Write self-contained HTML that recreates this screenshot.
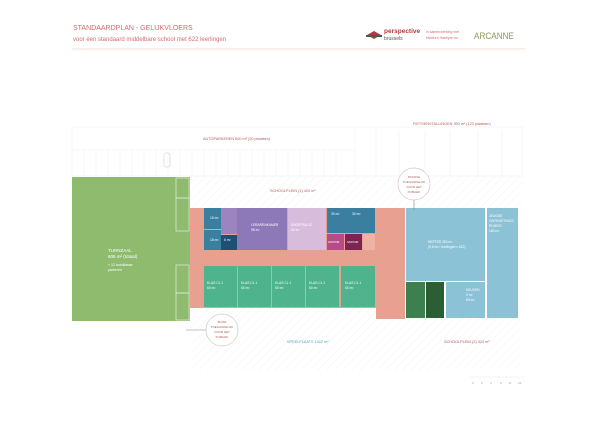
<!DOCTYPE html>
<html><head><meta charset="utf-8"><style>
html,body{margin:0;padding:0;background:#fff;width:600px;height:424px;overflow:hidden}
svg{display:block;font-family:"Liberation Sans",sans-serif}
</style></head><body>
<svg width="600" height="424" viewBox="0 0 600 424" xmlns="http://www.w3.org/2000/svg">
<defs>
<pattern id="h" width="6" height="6" patternUnits="userSpaceOnUse" patternTransform="rotate(45)">
<rect width="6" height="6" fill="#fff"/><line x1="0" y1="0" x2="0" y2="6" stroke="#f3f6f7" stroke-width="1.2"/></pattern>
</defs>
<!-- header -->
<text x="73" y="30" font-size="7" fill="#d46c6c">STANDAARDPLAN - GELIJKVLOERS</text>
<text x="73" y="41" font-size="6" fill="#d46c6c">voor een standaard middelbare school met 622 leerlingen</text>
<line x1="72" y1="49" x2="525" y2="49" stroke="#ecd4d4" stroke-width="0.7"/>
<path d="M367 35 L374 31 L381 35 L374 39Z" fill="#b23a3a"/>
<rect x="366" y="35" width="16" height="2" fill="#555"/>
<text x="384" y="33" font-size="6.5" font-weight="bold" fill="#b23a3a">perspective</text>
<text x="384" y="40" font-size="5" fill="#555">brussels</text>
<text x="426" y="33" font-size="3.5" fill="#d46c6c">in samenwerking met</text>
<text x="426" y="39" font-size="3.5" fill="#d46c6c">Marleen Hakeyan en</text>
<text x="474" y="39" font-size="9" fill="#8a9a5a" textLength="40" lengthAdjust="spacingAndGlyphs">ARCANNE</text>
<!-- parking -->
<rect x="72" y="127" width="450" height="49" fill="#fff" stroke="#f2ecec" stroke-width="0.6"/>
<line x1="72" y1="150" x2="355" y2="150" stroke="#f2ecec" stroke-width="0.6"/>
<g stroke="#f2ecec" stroke-width="0.5">
<line x1="84" y1="150" x2="84" y2="176"/><line x1="96" y1="150" x2="96" y2="176"/><line x1="108" y1="150" x2="108" y2="176"/><line x1="120" y1="150" x2="120" y2="176"/><line x1="132" y1="150" x2="132" y2="176"/><line x1="144" y1="150" x2="144" y2="176"/><line x1="156" y1="150" x2="156" y2="176"/><line x1="168" y1="150" x2="168" y2="176"/><line x1="180" y1="150" x2="180" y2="176"/><line x1="192" y1="150" x2="192" y2="176"/><line x1="204" y1="150" x2="204" y2="176"/><line x1="216" y1="150" x2="216" y2="176"/><line x1="228" y1="150" x2="228" y2="176"/><line x1="240" y1="150" x2="240" y2="176"/><line x1="252" y1="150" x2="252" y2="176"/><line x1="264" y1="150" x2="264" y2="176"/><line x1="276" y1="150" x2="276" y2="176"/><line x1="288" y1="150" x2="288" y2="176"/><line x1="300" y1="150" x2="300" y2="176"/><line x1="312" y1="150" x2="312" y2="176"/><line x1="324" y1="150" x2="324" y2="176"/><line x1="336" y1="150" x2="336" y2="176"/><line x1="355" y1="127" x2="355" y2="176"/>
<line x1="376" y1="130" x2="376" y2="176"/><line x1="399" y1="130" x2="399" y2="176"/><line x1="425" y1="130" x2="425" y2="176"/><line x1="450" y1="130" x2="450" y2="176"/><line x1="478" y1="130" x2="478" y2="176"/><line x1="502" y1="130" x2="502" y2="176"/>
</g>
<rect x="164" y="153" width="6" height="14" rx="2" fill="none" stroke="#ccc" stroke-width="0.6"/>
<text x="203" y="140" font-size="3.8" fill="#b35a5a">AUTOPARKEREN 600 m² (20 plaatsen)</text>
<text x="413" y="125" font-size="3.8" fill="#b35a5a">FIETSENSTALLINGEN 390 m² (123 plaatsen)</text>
<rect x="190" y="177" width="332" height="31" fill="url(#h)"/>
<text x="270" y="192" font-size="3.8" fill="#b35a5a">SCHOOLPLEIN (1) 420 m²</text>
<rect x="190" y="308" width="265" height="62" fill="url(#h)"/>
<rect x="405" y="318" width="116" height="52" fill="url(#h)"/>
<text x="287" y="343" font-size="3.8" fill="#4aa3c4">SPEELPLAATS 1322 m²</text>
<text x="444" y="343" font-size="3.8" fill="#b35a5a">SCHOOLPLEIN (2) 324 m²</text>
<!-- turnzaal -->
<rect x="72" y="177" width="118" height="144" fill="#8fbb6f"/>
<g fill="none" stroke="#dfeed2" stroke-width="0.7">
<rect x="176" y="178" width="13" height="20"/><rect x="176" y="198" width="13" height="33"/><rect x="176" y="265" width="13" height="28"/><rect x="176" y="293" width="13" height="27"/></g>
<text x="108" y="252" font-size="4.5" fill="#fff">TURNZAAL</text>
<text x="108" y="258" font-size="4.5" fill="#fff">605 m² (totaal)</text>
<text x="108" y="266" font-size="3.5" fill="#fff">+ 12 autoklasse</text>
<text x="108" y="271" font-size="3.5" fill="#fff">parkeren</text>
<rect x="190" y="208" width="186" height="100" fill="#e8a091"/>
<rect x="376" y="208" width="29" height="111" fill="#e8a091"/>
<rect x="204" y="208" width="17" height="21" fill="#3a7fa0"/>
<rect x="204" y="230" width="17" height="20" fill="#3a7fa0"/>
<rect x="221" y="208" width="16" height="26" fill="#9b84bf"/>
<rect x="221" y="235" width="16" height="15" fill="#1e4f75"/>
<rect x="237" y="208" width="50" height="42" fill="#8d79b8"/>
<rect x="288" y="208" width="38" height="42" fill="#d8bcdc"/>
<rect x="327" y="208" width="48" height="25" fill="#3a7fa0"/>
<rect x="327" y="234" width="17" height="16" fill="#b64b8a"/>
<rect x="345" y="234" width="17" height="16" fill="#7c2550"/>
<rect x="363" y="234" width="12" height="16" fill="#eeb3a6"/>
<g font-size="3.3" fill="#fff">
<text x="210" y="219">18 m²</text><text x="210" y="241">18 m²</text><text x="224" y="241">6 m²</text>
<text x="251" y="226">LERARENKAMER</text><text x="251" y="231">98 m²</text>
<text x="291" y="226">SNOEPBALIE</text><text x="291" y="231">60 m²</text>
<text x="331" y="215">30 m²</text><text x="352" y="215">30 m²</text>
<text x="328" y="243" font-size="2.5">SANITAIR</text><text x="347" y="243" font-size="2.5">SANITAIR</text>
</g>
<g fill="#4fb38d">
<rect x="204" y="266" width="33" height="41"/><rect x="238" y="266" width="33" height="41"/><rect x="272" y="266" width="33" height="41"/><rect x="306" y="266" width="33" height="41"/><rect x="341" y="266" width="34" height="41"/></g>
<g font-size="3.3" fill="#fff">
<text x="207" y="284">KLAS CL 1</text><text x="207" y="289">60 m²</text>
<text x="241" y="284">KLAS CL 1</text><text x="241" y="289">60 m²</text>
<text x="275" y="284">KLAS CL 1</text><text x="275" y="289">60 m²</text>
<text x="309" y="284">KLAS CL 1</text><text x="309" y="289">60 m²</text>
<text x="345" y="284">KLAS CL 1</text><text x="345" y="289">60 m²</text>
</g>
<rect x="406" y="208" width="79" height="73" fill="#8cc2d6"/>
<rect x="487" y="208" width="31" height="110" fill="#8cc2d6"/>
<rect x="406" y="282" width="19" height="36" fill="#3d7f4f"/>
<rect x="426" y="282" width="18" height="36" fill="#2a5f34"/>
<rect x="446" y="282" width="39" height="36" fill="#8cc2d6"/>
<g font-size="3.3" fill="#fff">
<text x="428" y="243">REFTER 350 m²</text><text x="428" y="248">(0,6 m² / leerlingen x 622)</text>
<text x="489" y="217">JEUGDE</text><text x="489" y="222">ONTMOETINGS</text><text x="489" y="227">RUIMTE</text><text x="489" y="232">180 m²</text>
<text x="466" y="291">KEUKEN</text><text x="466" y="296">0 m²</text><text x="466" y="301">60 m²</text>
</g>
<line x1="414" y1="199" x2="414" y2="210" stroke="#888" stroke-width="0.6"/>
<circle cx="414" cy="184" r="16" fill="#fff" stroke="#d8c4c4" stroke-width="0.7"/>
<line x1="186" y1="330" x2="206" y2="330" stroke="#888" stroke-width="0.6"/>
<circle cx="222" cy="330" r="16" fill="#fff" stroke="#d8c4c4" stroke-width="0.7"/>
<g font-size="3" fill="#b35a5a" text-anchor="middle">
<text x="414" y="178">PASSIVE</text><text x="414" y="183">TOEGANKELIJK</text><text x="414" y="188">VOOR HET</text><text x="414" y="193">PUBLIEK</text>
<text x="222" y="323">BUITE</text><text x="222" y="328">TOEGANKELIJK</text><text x="222" y="333">VOOR HET</text><text x="222" y="338">PUBLIEK</text></g>
<line x1="470" y1="377" x2="524" y2="377" stroke="#e8e8e8" stroke-width="0.6"/>
<g font-size="3" fill="#999"><text x="472" y="384">0</text><text x="481" y="384">2</text><text x="490" y="384">4</text><text x="500" y="384">6</text><text x="509" y="384">8</text><text x="518" y="384">10</text></g>
</svg>
</body></html>
